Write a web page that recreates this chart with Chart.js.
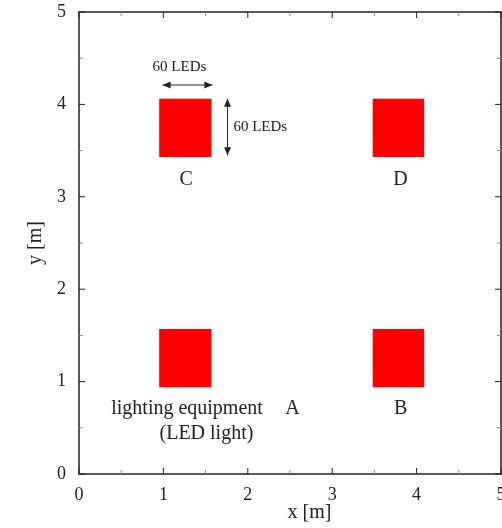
<!DOCTYPE html>
<html>
<head>
<meta charset="utf-8">
<script src="https://cdn.jsdelivr.net/npm/chart.js@4.4.1/dist/chart.umd.min.js"></script>
<style>
  html, body { margin: 0; padding: 0; background: #fff; overflow: hidden; }
  #wrap { position: relative; width: 502px; height: 528px; }
</style>
</head>
<body>
<div id="wrap"><canvas id="layout"></canvas></div>
<script>
// Lighting equipment footprints (m)
const lightNames = ['A', 'B', 'C', 'D'];
const lightX0 = [0.95, 3.48, 0.95, 3.48];
const lightX1 = [1.57, 4.09, 1.57, 4.09];
const lightY0 = [0.94, 0.94, 3.43, 3.43];
const lightY1 = [1.57, 1.57, 4.06, 4.06];

// Axis ticks
const majorTicks = [0, 1, 2, 3, 4, 5];
const minorTicks = [0.5, 1.5, 2.5, 3.5, 4.5];

// Text labels placed in data space
const noteText = ['C', 'D', 'lighting equipment', 'A', 'B', '(LED light)', '60 LEDs', '60 LEDs', 'x [m]'];
const noteX = [1.27, 3.81, 1.28, 2.53, 3.81, 1.51, 1.19, 1.83, 2.73];
const noteY = [3.18, 3.18, 0.71, 0.71, 0.71, 0.44, 4.40, 3.76, -0.42];
const noteSize = [20, 20, 20, 20, 20, 20, 15, 15, 20];
const noteAlign = ['center', 'center', 'center', 'center', 'center', 'center', 'center', 'left', 'center'];

// Dimension arrows: [x0, y0, x1, y1]
const arrows = [
  [0.99, 4.21, 1.58, 4.21],
  [1.76, 4.06, 1.76, 3.45]
];

const serif = '"Liberation Serif", "DejaVu Serif", serif';
const ink = '#222';

const squares = lightNames.map((name, i) => ({
  label: name,
  data: [
    { x: lightX0[i], y: lightY0[i] },
    { x: lightX1[i], y: lightY0[i] },
    { x: lightX1[i], y: lightY1[i] },
    { x: lightX0[i], y: lightY1[i] },
    { x: lightX0[i], y: lightY0[i] }
  ],
  showLine: true,
  fill: 'shape',
  backgroundColor: '#ff0000',
  borderColor: '#ff0000',
  borderWidth: 0,
  pointRadius: 0,
  tension: 0
}));

function arrowHead(ctx, x, y, ang) {
  const len = 8, half = 3.5;
  ctx.beginPath();
  ctx.moveTo(x, y);
  ctx.lineTo(x - len * Math.cos(ang) + half * Math.sin(ang), y - len * Math.sin(ang) - half * Math.cos(ang));
  ctx.lineTo(x - len * Math.cos(ang) - half * Math.sin(ang), y - len * Math.sin(ang) + half * Math.cos(ang));
  ctx.closePath();
  ctx.fill();
}

function drawTicks(ctx, a, x, y, values, len) {
  ctx.beginPath();
  values.forEach(v => {
    const px = x.getPixelForValue(v);
    ctx.moveTo(px, a.bottom); ctx.lineTo(px, a.bottom - len);
    ctx.moveTo(px, a.top); ctx.lineTo(px, a.top + len);
    const py = y.getPixelForValue(v);
    ctx.moveTo(a.left, py); ctx.lineTo(a.left + len, py);
    ctx.moveTo(a.right, py); ctx.lineTo(a.right - len, py);
  });
  ctx.stroke();
}

// Frame, inward ticks, arrows and text
const decor = {
  id: 'decor',
  afterDatasetsDraw(chart) {
    const { ctx, chartArea: a, scales: { x, y } } = chart;
    ctx.save();
    ctx.strokeStyle = ink;
    ctx.fillStyle = ink;
    ctx.lineWidth = 1.5;
    ctx.strokeRect(a.left, a.top, a.right - a.left, a.bottom - a.top);

    ctx.lineWidth = 1;
    drawTicks(ctx, a, x, y, majorTicks, 6);
    ctx.strokeStyle = '#888';
    drawTicks(ctx, a, x, y, minorTicks, 4);
    ctx.strokeStyle = ink;

    arrows.forEach(([vx0, vy0, vx1, vy1]) => {
      const x0 = x.getPixelForValue(vx0), y0 = y.getPixelForValue(vy0);
      const x1 = x.getPixelForValue(vx1), y1 = y.getPixelForValue(vy1);
      const ang = Math.atan2(y1 - y0, x1 - x0);
      ctx.beginPath();
      ctx.moveTo(x0, y0); ctx.lineTo(x1, y1);
      ctx.stroke();
      arrowHead(ctx, x1, y1, ang);
      arrowHead(ctx, x0, y0, ang + Math.PI);
    });

    ctx.textBaseline = 'middle';
    noteText.forEach((t, i) => {
      ctx.font = noteSize[i] + 'px ' + serif;
      ctx.textAlign = noteAlign[i];
      ctx.fillText(t, x.getPixelForValue(noteX[i]), y.getPixelForValue(noteY[i]));
    });
    ctx.restore();
  }
};

new Chart(document.getElementById('layout'), {
  type: 'scatter',
  data: { datasets: squares },
  options: {
    responsive: true,
    maintainAspectRatio: false,
    animation: false,
    layout: { padding: { top: 12, right: 1, left: 0, bottom: 0 } },
    plugins: {
      legend: { display: false },
      tooltip: { enabled: false }
    },
    scales: {
      x: {
        type: 'linear',
        min: 0,
        max: 5,
        grid: { display: false },
        border: { display: false },
        ticks: { stepSize: 1, color: ink, padding: 2, font: { family: serif, size: 18 } },
        afterFit(scale) {
          scale.height = 54;
          scale.paddingLeft = 0;
          scale.paddingRight = 0;
        }
      },
      y: {
        type: 'linear',
        min: 0,
        max: 5,
        grid: { display: false },
        border: { display: false },
        ticks: { stepSize: 1, color: ink, padding: 5, font: { family: serif, size: 18 } },
        title: {
          display: true,
          text: 'y [m]',
          color: ink,
          font: { family: serif, size: 20 },
          padding: { top: 24, bottom: 0 }
        },
        afterFit(scale) {
          scale.width = 79;
          scale.paddingTop = 0;
          scale.paddingBottom = 0;
        }
      }
    }
  },
  plugins: [decor]
});
</script>
</body>
</html>
